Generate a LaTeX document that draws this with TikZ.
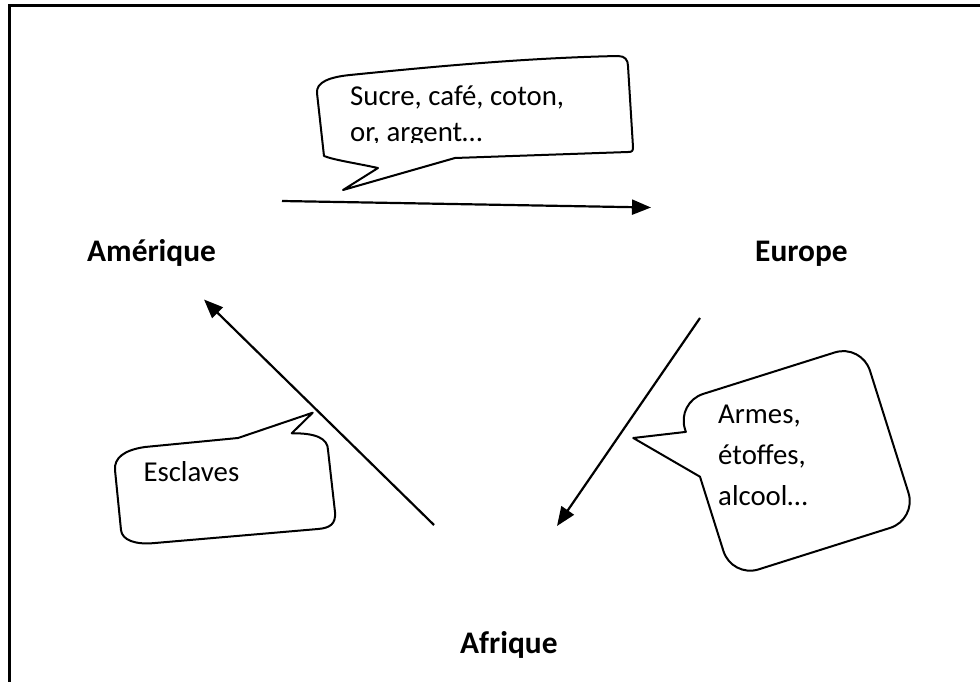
\documentclass[tikz,border=0pt]{standalone}
\usepackage{fontspec}
\setmainfont{Carlito}
\usetikzlibrary{arrows.meta}
\begin{document}
\begin{tikzpicture}[x=1pt,y=-1pt,
  conn/.style={line width=2.2pt,-{Triangle[length=19pt,width=15pt]}},
  callout/.style={draw,line width=2pt,fill=white,line join=round},
  place/.style={font=\fontsize{31.4}{38}\selectfont\bfseries,anchor=base west,inner sep=0pt},
  txt/.style={font=\fontsize{28.8}{35}\selectfont,anchor=base west,inner sep=0pt}]
\useasboundingbox (0,0) rectangle (980,682);
\fill[white] (0,0) rectangle (980,682);
% frame
\draw[line width=3pt] (9,690) -- (9,6) -- (990,6);

% place names
\node[place] (am) at (87,261.7) {Amérique};
\node[place] (eu) at (755,261.7) {Europe};
\node[place] (af) at (460,653) {Afrique};

% arrow end points
\coordinate (a1s) at (282,201);
\coordinate (a1e) at (651,207.5);
\coordinate (a2s) at (700,318);
\coordinate (a2e) at (557,526);
\coordinate (a3s) at (434,525);
\coordinate (a3e) at (204,299.5);
\draw[conn] (a1s) -- (a1e);
\draw[conn] (a2s) -- (a2e);
\draw[conn] (a3s) -- (a3e);

% callout 1 (top)
\draw[callout] (324,156) -- (317,93)
  .. controls (316,82) and (330,77) .. (350,75)
  .. controls (420,68) and (520,58) .. (618,56)
  .. controls (625,56) and (628,60) .. (628,66)
  -- (633,147) .. controls (633,151) and (632,152) .. (628,152)
  -- (455,158) -- (343,190) -- (378,168)
  .. controls (355,163) and (334,160) .. (324,156) -- cycle;
\node[txt] (c1a) at (350,106) {Sucre, café, coton,};
\begin{scope}
  \clip (300,100) rectangle (640,142.5);
  \node[txt] (c1b) at (350,142) {or, argent…};
\end{scope}

% callout 2 (right, rotated)
\begin{scope}[shift={(796.7,460.9)},rotate=17.5]
\draw[callout] (-149,-71) -- (-97,-14) -- (-97,64)
  .. controls (-97,79.5) and (-84.5,92) .. (-69,92) -- (69,92)
  .. controls (84.5,92) and (97,79.5) .. (97,64) -- (97,-64)
  .. controls (97,-79.5) and (84.5,-92) .. (69,-92) -- (-69,-92)
  .. controls (-84.5,-92) and (-97,-79.5) .. (-97,-64)
  -- (-97,-61) -- cycle;
\end{scope}
\node[txt] (c2a) at (718,423.5) {Armes,};
\node[txt] (c2b) at (718,464.5) {étoffes,};
\node[txt] (c2c) at (718,505.5) {alcool…};

% callout 3 (left)
\draw[callout] (238,438) -- (312.7,412.7) -- (291.7,433.3)
  .. controls (315,433) and (328,438) .. (328,450)
  -- (335,512) .. controls (336,524) and (330,528) .. (318,529)
  -- (155,543) .. controls (135,545) and (122,540) .. (121,530)
  -- (115,470) .. controls (114,458) and (124,450) .. (145,447)
  -- cycle;
\node[txt] (c3) at (143.3,481.7) {Esclaves};
\end{tikzpicture}
\end{document}
